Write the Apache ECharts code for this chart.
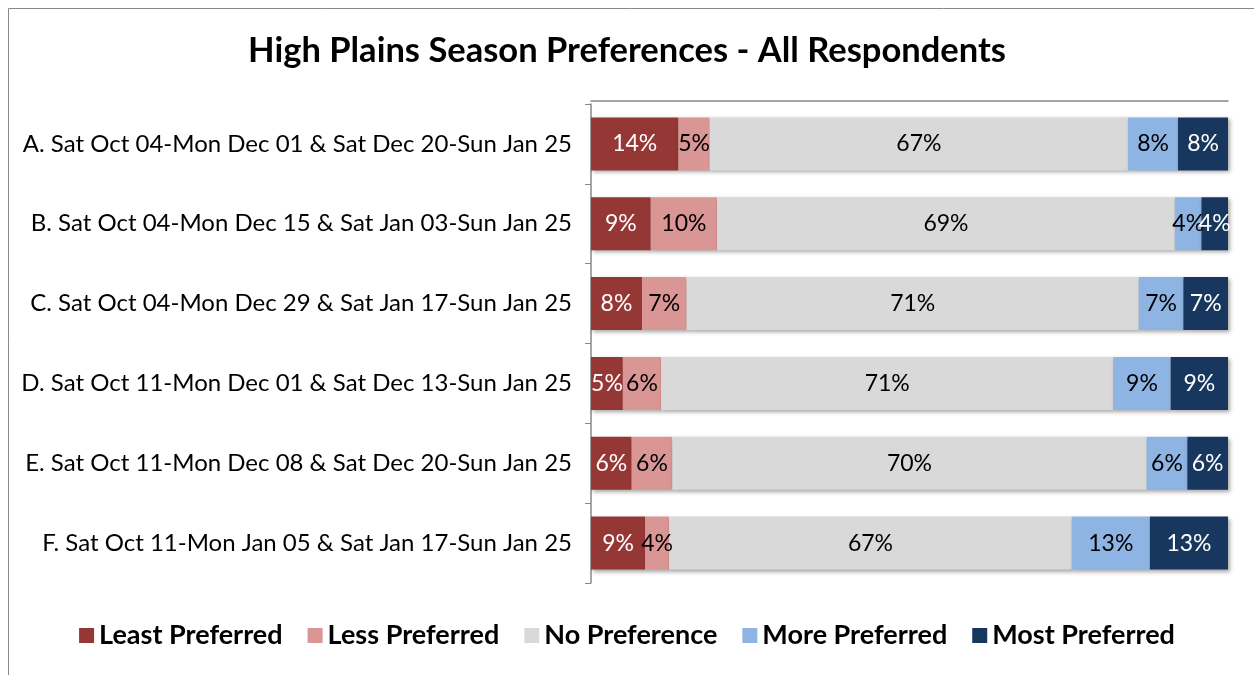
<!DOCTYPE html>
<html>
<head>
<meta charset="utf-8">
<script src="https://cdn.jsdelivr.net/npm/echarts@6/dist/echarts.min.js"></script>
<style>
  html, body { margin: 0; padding: 0; background: #fff; }
  #chart { width: 1254px; height: 675px; }
</style>
</head>
<body>
<div id="chart"></div>
<script>
// 类别（从上到下）
const categories = [
  'A. Sat Oct 04-Mon Dec 01 & Sat Dec 20-Sun Jan 25',
  'B. Sat Oct 04-Mon Dec 15 & Sat Jan 03-Sun Jan 25',
  'C. Sat Oct 04-Mon Dec 29 & Sat Jan 17-Sun Jan 25',
  'D. Sat Oct 11-Mon Dec 01 & Sat Dec 13-Sun Jan 25',
  'E. Sat Oct 11-Mon Dec 08 & Sat Dec 20-Sun Jan 25',
  'F. Sat Oct 11-Mon Jan 05 & Sat Jan 17-Sun Jan 25'
];

const seriesNames = ['Least Preferred', 'Less Preferred', 'No Preference', 'More Preferred', 'Most Preferred'];

// 每个系列的百分比（图上标签）
const leastPreferred = [14, 9, 8, 5, 6, 9];
const lessPreferred = [5, 10, 7, 6, 6, 4];
const noPreference = [67, 69, 71, 71, 70, 67];
const morePreferred = [8, 4, 7, 9, 6, 13];
const mostPreferred = [8, 4, 7, 9, 6, 13];

const colors = ['#953735', '#D99694', '#D9D9D9', '#8EB4E3', '#17375E'];
const labelColors = ['#ffffff', '#000000', '#000000', '#000000', '#ffffff'];

const allValues = [leastPreferred, lessPreferred, noPreference, morePreferred, mostPreferred];

// 100% 堆叠：按行合计归一化
const rowTotals = categories.map((_, i) => allValues.reduce((s, arr) => s + arr[i], 0));

const fontFamily = 'Lato, "Open Sans", sans-serif';

const series = allValues.map((arr, k) => ({
  name: seriesNames[k],
  type: 'bar',
  stack: 'total',
  barWidth: 53,
  itemStyle: {
    color: colors[k],
    shadowColor: 'rgba(0,0,0,0.35)',
    shadowBlur: 4,
    shadowOffsetX: 2,
    shadowOffsetY: 2
  },
  label: {
    show: true,
    position: 'inside',
    color: labelColors[k],
    fontSize: 23,
    fontFamily: fontFamily,
    formatter: p => p.data.raw + '%'
  },
  data: arr.map((v, i) => ({ value: v / rowTotals[i] * 100, raw: v }))
}));

const myChart = echarts.init(document.getElementById('chart'));

const option = {
  backgroundColor: '#ffffff',
  animation: false,
  title: {
    text: 'High Plains Season Preferences - All Respondents',
    left: 'center',
    top: 28,
    textStyle: {
      color: '#000000',
      fontSize: 34.5,
      fontWeight: 'bold',
      fontFamily: fontFamily
    }
  },
  legend: {
    bottom: 21,
    left: 'center',
    itemWidth: 15,
    itemHeight: 15,
    itemGap: 25,
    icon: 'rect',
    textStyle: {
      color: '#000000',
      fontSize: 27,
      fontWeight: 'bold',
      fontFamily: fontFamily
    },
    data: seriesNames
  },
  graphic: [
    {
      type: 'rect',
      shape: { x: 8.5, y: 8.5, width: 1300, height: 720 },
      style: { fill: 'none', stroke: '#888888', lineWidth: 1 },
      silent: true
    }
  ],
  grid: {
    left: 591,
    right: 26,
    top: 104,
    bottom: 92
  },
  xAxis: {
    type: 'value',
    position: 'top',
    offset: 3,
    min: 0,
    max: 100,
    axisLine: { show: true, lineStyle: { color: '#888888', width: 1.5 } },
    axisTick: { show: false },
    axisLabel: { show: false },
    splitLine: { show: false }
  },
  yAxis: {
    type: 'category',
    inverse: true,
    data: categories,
    axisLine: { show: true, lineStyle: { color: '#888888', width: 1.5 } },
    axisTick: { show: true, length: 6, lineStyle: { color: '#888888' } },
    axisLabel: {
      color: '#000000',
      fontSize: 24,
      fontFamily: fontFamily,
      margin: 19
    }
  },
  series: series
};

myChart.setOption(option);
window.addEventListener('resize', myChart.resize);
</script>
</body>
</html>
